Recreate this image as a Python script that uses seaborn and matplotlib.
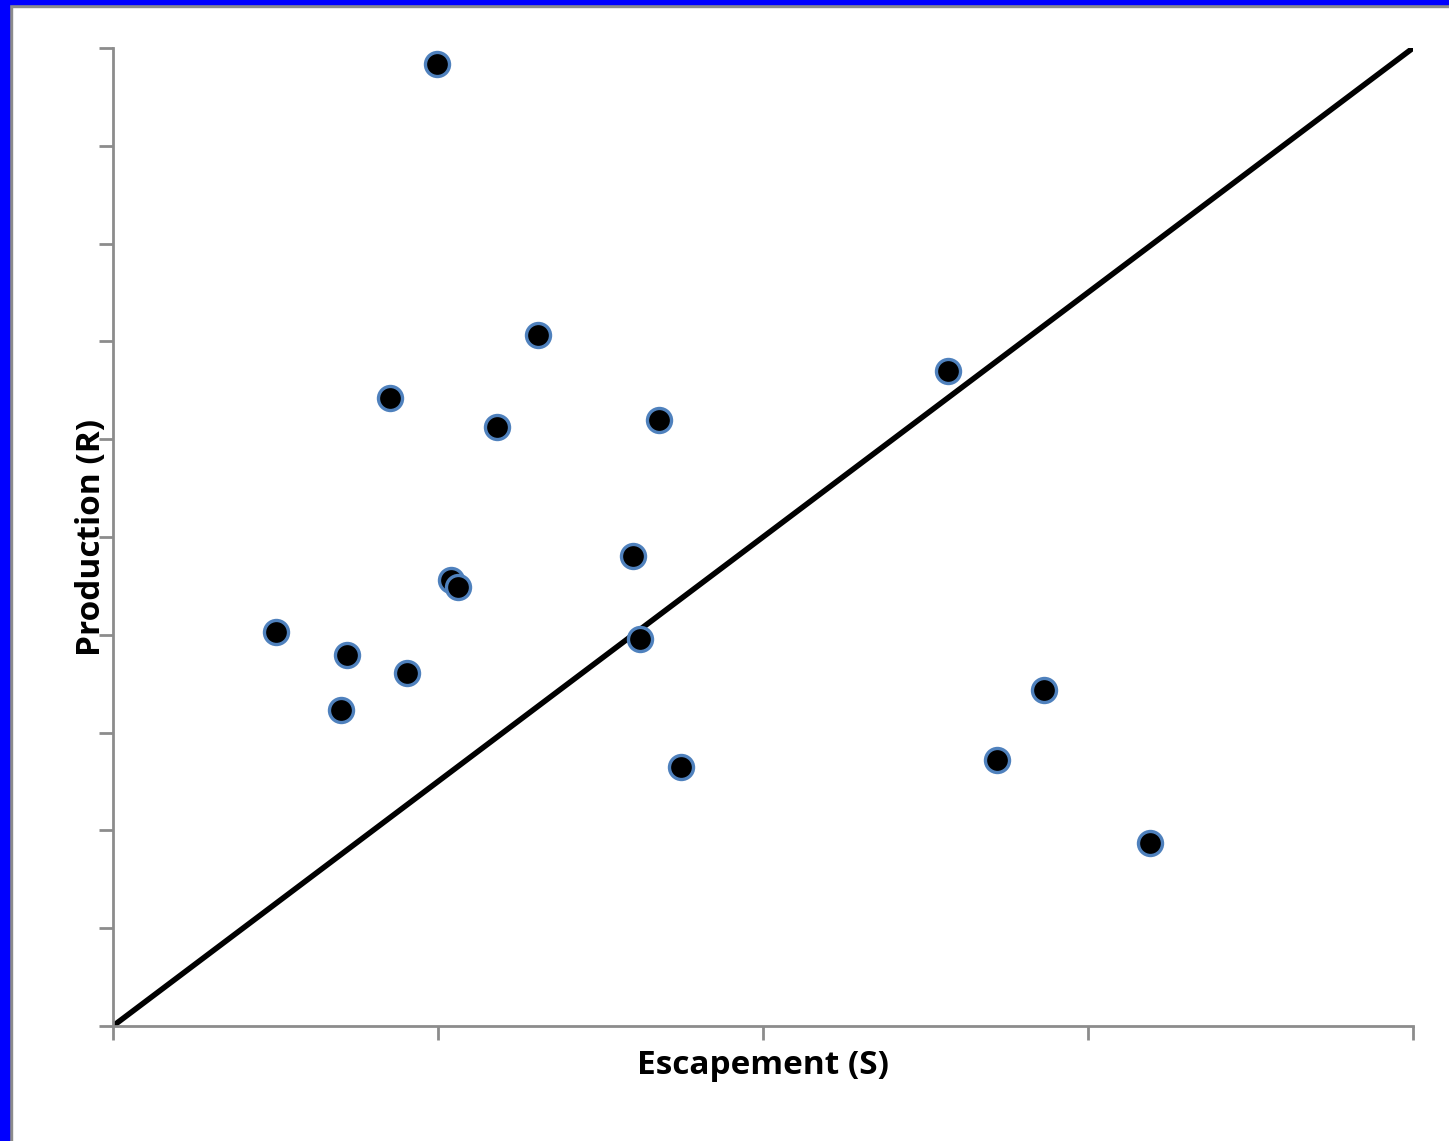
import matplotlib
matplotlib.use("Agg")
import matplotlib.pyplot as plt
import seaborn as sns
import pandas as pd
from matplotlib.patches import Rectangle

escapement = [24.9, 32.7, 21.3, 29.5, 42.0, 64.2, 40.0, 26.0, 26.5, 12.5, 18.0, 22.6, 17.5, 40.5, 43.7, 71.6, 68.0, 79.8]
production = [98.4, 70.7, 64.2, 61.2, 62.0, 67.0, 48.1, 45.6, 44.9, 40.3, 37.9, 36.1, 32.3, 39.6, 26.5, 34.4, 27.2, 18.7]
replacement_x = [0, 100]
replacement_y = [0, 100]
x_ticks = [0, 25, 50, 75, 100]
y_ticks = [0, 10, 20, 30, 40, 50, 60, 70, 80, 90, 100]

df = pd.DataFrame({"S": escapement, "R": production})

sns.set_style("white")
plt.rcParams['font.family'] = ['Open Sans', 'DejaVu Sans']

W, H = 1449, 1141
fig = plt.figure(figsize=(W / 100, H / 100), dpi=100)
ax = fig.add_axes([113 / W, (H - 1026) / H, 1300 / W, 978 / H])

sns.lineplot(x=replacement_x, y=replacement_y, ax=ax, color="black", linewidth=4, zorder=2)
sns.scatterplot(data=df, x="S", y="R", ax=ax, color="black", edgecolor="#4f81bd",
                linewidth=2.4, s=300, zorder=3)

ax.set_xlim(0, 100)
ax.set_ylim(0, 100)
ax.set_xticks(x_ticks)
ax.set_yticks(y_ticks)
ax.set_xticklabels([])
ax.set_yticklabels([])
ax.tick_params(axis="both", direction="out", length=10, width=2, color="#8c8c8c",
               bottom=True, left=True)
for side in ["top", "right"]:
    ax.spines[side].set_visible(False)
for side in ["left", "bottom"]:
    ax.spines[side].set_color("#8c8c8c")
    ax.spines[side].set_linewidth(2)

ax.set_xlabel("Escapement (S)", fontsize=24, fontweight="bold", labelpad=3, color="black")
ax.set_ylabel("Production (R)", fontsize=24, fontweight="bold", labelpad=-10, color="black")

# blue frame with gray inner line (top and left)
fig.patches.append(Rectangle((0, 0), 9 / W, 1, transform=fig.transFigure, color="#0000ff", zorder=10))
fig.patches.append(Rectangle((0, 1 - 4 / H), 1, 4 / H, transform=fig.transFigure, color="#0000ff", zorder=10))
fig.patches.append(Rectangle((9 / W, 0), 3 / W, 1 - 4 / H, transform=fig.transFigure, color="#8c8c8c", zorder=9))
fig.patches.append(Rectangle((9 / W, 1 - 7 / H), 1, 3 / H, transform=fig.transFigure, color="#8c8c8c", zorder=9))

fig.savefig("out.png", dpi=100)
